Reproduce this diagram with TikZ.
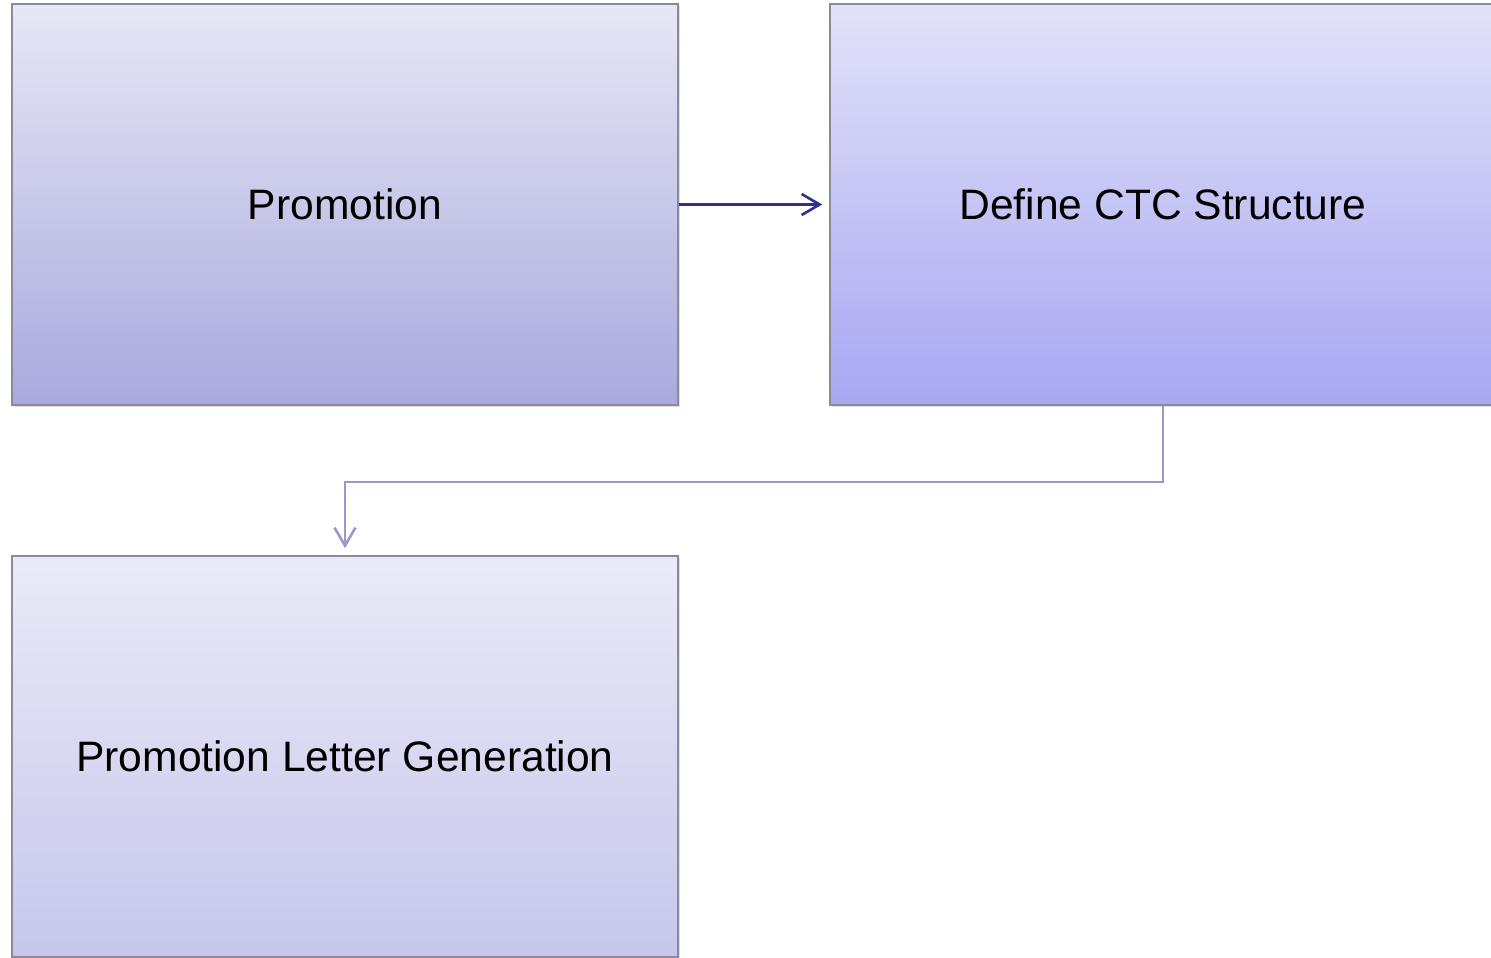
\documentclass[tikz,border=0pt]{standalone}
\usepackage{fontspec}
\setmainfont{Liberation Sans}
\usetikzlibrary{arrows.meta,shadows}
\definecolor{edgegray}{HTML}{8A8A9A}
\definecolor{ptop}{HTML}{E7E7F5}
\definecolor{pbot}{HTML}{A9A9DE}
\definecolor{dtop}{HTML}{E2E2F9}
\definecolor{dbot}{HTML}{A7A7F2}
\definecolor{ltop}{HTML}{EAEAF7}
\definecolor{lbot}{HTML}{C6C6EC}
\definecolor{flowdark}{HTML}{2E3192}
\definecolor{flowlight}{HTML}{9999CC}
\begin{document}
\begin{tikzpicture}[x=0.5pt,y=-0.5pt,
  box/.style={draw=edgegray, line width=0.8pt, minimum width=333pt, minimum height=200.5pt,
    inner sep=0pt, font=\fontsize{21.3}{25}\selectfont, text=black,
    drop shadow={shadow xshift=0.8pt, shadow yshift=-1.2pt, opacity=0.25}},
  flow/.style={line width=1.3pt, -{Straight Barb[length=9pt,width=10.5pt,line width=1.3pt]}, shorten >=3.5pt}
]
\useasboundingbox (0,0) rectangle (1491,957);
% process boxes
\node[box, top color=ptop, bottom color=pbot] (promo) at (345,204.5) {Promotion};
\node[box, top color=dtop, bottom color=dbot] (ctc) at (1163,204.5) {Define CTC Structure};
\node[box, top color=ltop, bottom color=lbot] (letter) at (345,756.5) {Promotion Letter Generation};
% connectors
\draw[flow, draw=flowdark] (promo.east) -- (ctc.west);
\draw[flow, draw=flowlight] (ctc.south) -- ++(0,76) -| (letter.north);
\end{tikzpicture}
\end{document}
